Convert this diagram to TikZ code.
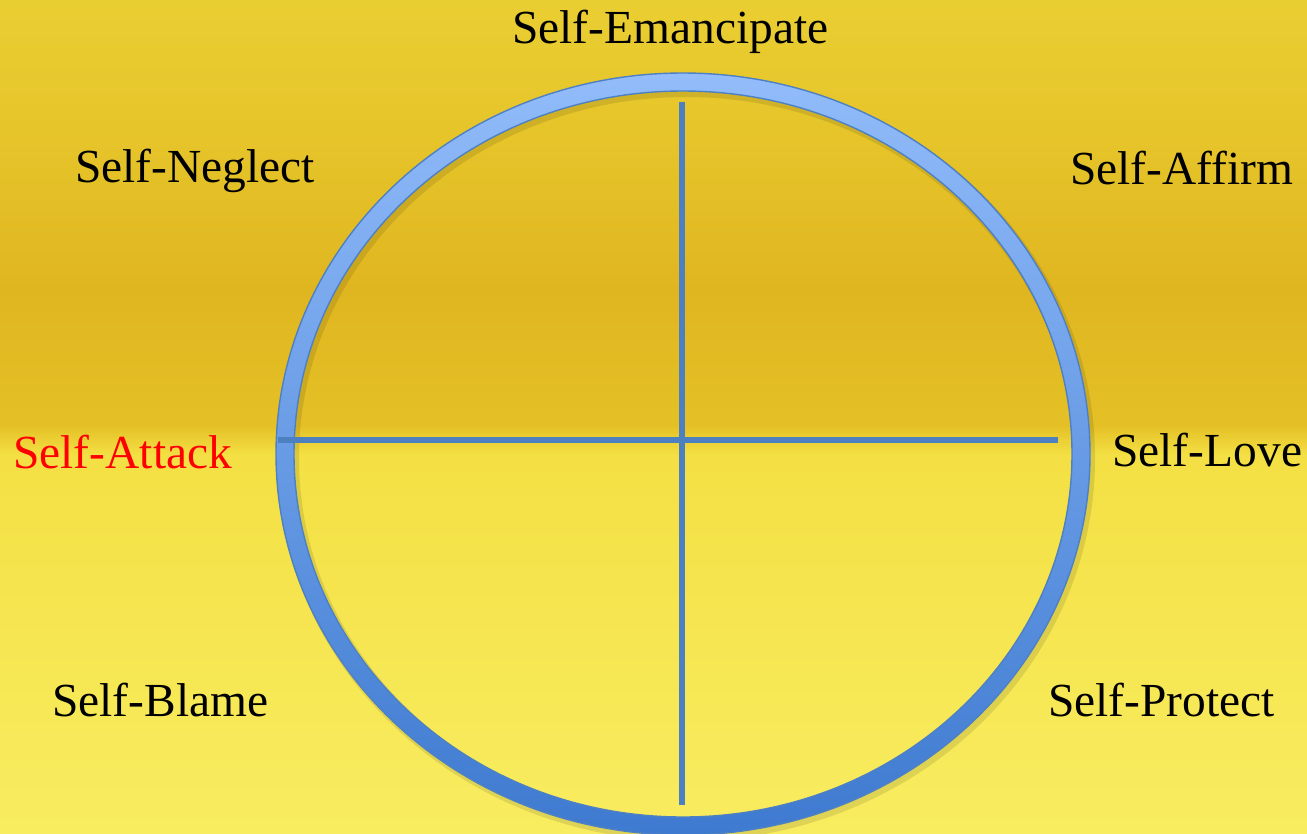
\documentclass[tikz,border=0pt]{standalone}
\usepackage{fontspec}
\setmainfont{Liberation Serif}
\usepackage{xcolor}
\usepackage{tikz}
\usetikzlibrary{positioning}

\definecolor{paperA}{RGB}{233,206,50}
\definecolor{paperB}{RGB}{230,196,42}
\definecolor{paperC}{RGB}{224,182,32}
\definecolor{paperD}{RGB}{228,192,38}
\definecolor{paperE}{RGB}{244,224,68}
\definecolor{paperF}{RGB}{248,236,96}
\definecolor{ringtop}{RGB}{146,188,250}
\definecolor{ringbottom}{RGB}{62,122,208}
\definecolor{ringedge}{RGB}{78,128,196}
\definecolor{lineblue}{RGB}{76,128,192}

\begin{document}
\begin{tikzpicture}[x=0.02cm, y=-0.02cm,
    every node/.style={font=\fontsize{27}{32}\selectfont, inner sep=0pt},
    wordlabel/.style={anchor=base west},
    crossline/.style={draw=lineblue, line width=3pt}]
    \useasboundingbox (0,0) rectangle (1307,833);

    % Paper background
    \shade[top color=paperA, bottom color=paperB] (0,0) rectangle (1307,140);
    \shade[top color=paperB, bottom color=paperC] (0,140) rectangle (1307,290);
    \shade[top color=paperC, bottom color=paperD] (0,290) rectangle (1307,425);
    \shade[top color=paperD, bottom color=paperE] (0,425) rectangle (1307,455);
    \shade[top color=paperE, bottom color=paperF] (0,455) rectangle (1307,833);

    % Ring
    \coordinate (hub) at (683,454);
    \fill[black, opacity=0.1, even odd rule] (686,458) ellipse [x radius=409, y radius=383] (686,458) ellipse [x radius=387, y radius=361];
    \shade[even odd rule, top color=ringtop, bottom color=ringbottom] (hub) ellipse [x radius=407, y radius=381] (hub) ellipse [x radius=389, y radius=363];
    \draw[ringedge, line width=0.8pt] (hub) ellipse [x radius=407, y radius=381] (hub) ellipse [x radius=389, y radius=363];

    % Cross lines
    \coordinate (westend) at (278,440);
    \coordinate (eastend) at (1058,440);
    \coordinate (northend) at (682,102);
    \coordinate (southend) at (682,805);
    \draw[crossline] (westend) -- (eastend);
    \draw[crossline] (northend) -- (southend);

    % Labels
    \node[wordlabel] (emancipate) at (512,43) {Self-Emancipate};
    \node[wordlabel] (neglect) at (75,182) {Self-Neglect};
    \node[wordlabel] (affirm) at (1070,184) {Self-Affirm};
    \node[wordlabel, text=red] (attack) at (13,468) {Self-Attack};
    \node[wordlabel] (love) at (1112,466) {Self-Love};
    \node[wordlabel] (blame) at (52,716) {Self-Blame};
    \node[wordlabel] (protect) at (1048,716) {Self-Protect};
\end{tikzpicture}
\end{document}
